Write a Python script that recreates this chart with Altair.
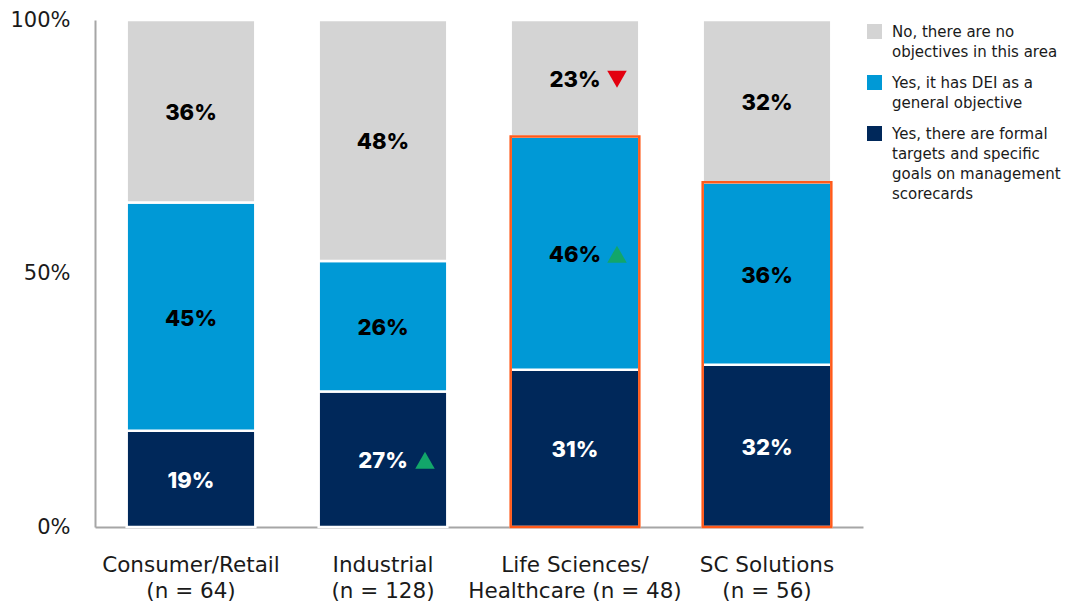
import altair as alt
import pandas as pd

sectors = ["Consumer/Retail", "Industrial", "Life Sciences/", "SC Solutions"]
sector_n = ["(n = 64)", "(n = 128)", "Healthcare (n = 48)", "(n = 56)"]
series = [
    "Yes, there are formal|targets and specific|goals on management|scorecards",
    "Yes, it has DEI as a|general objective",
    "No, there are no|objectives in this area",
]
formal = [19, 27, 31, 32]
general = [45, 26, 46, 36]
no_obj = [36, 48, 23, 32]
colors = ["#00285A", "#0099D6", "#D4D4D4"]
label_colors = ["#FFFFFF", "#000000", "#000000"]
highlighted = ["Life Sciences/", "SC Solutions"]
trend_sector = ["Industrial", "Life Sciences/", "Life Sciences/"]
trend_series = [0, 2, 1]
trend_shape = ["triangle-up", "triangle-down", "triangle-up"]
trend_color = ["#12A66A", "#E3000F", "#12A66A"]

values = [formal, general, no_obj]
rows = []
for i, s in enumerate(sectors):
    total = sum(v[i] for v in values)
    cum = 0
    for j, ser in enumerate(series):
        v = values[j][i]
        y0 = cum / total * 100
        cum += v
        y1 = cum / total * 100
        rows.append({
            "cat": s + "|" + sector_n[i], "sector": s, "series": ser, "sidx": j,
            "v": v, "y0": y0, "y1": y1, "mid": (y0 + y1) / 2,
            "txt": f"{v}%", "tcol": label_colors[j],
        })
df = pd.DataFrame(rows)

outline = df[(df["sector"].isin(highlighted)) & (df["sidx"] == 1)].copy()

trows = []
for k, s in enumerate(trend_sector):
    r = df[(df["sector"] == s) & (df["sidx"] == trend_series[k])].iloc[0]
    trows.append({"cat": r["cat"], "mid": r["mid"], "shape": trend_shape[k], "col": trend_color[k]})
tdf = pd.DataFrame(trows)

FONT = "DejaVu Sans"
cat_order = [s + "|" + n for s, n in zip(sectors, sector_n)]
xenc = alt.X(
    "cat:N", sort=cat_order, title=None,
    scale=alt.Scale(paddingInner=0.33, paddingOuter=0.165),
    axis=alt.Axis(labelExpr="split(datum.label, '|')", labelAngle=0, labelFontSize=21.5,
                  labelFont=FONT, labelColor="#1A1A1A", labelLineHeight=26, labelLimit=400,
                  labelPadding=27, ticks=False, domainColor="#A6A6A6", domainWidth=2),
)
yscale = alt.Scale(domain=[0, 100])

bars = alt.Chart(df).mark_bar(stroke="white", strokeWidth=2.5).encode(
    x=xenc,
    y=alt.Y("y0:Q", scale=yscale, title=None,
            axis=alt.Axis(values=[0, 50, 100], labelExpr="datum.value + '%'", grid=False,
                          ticks=False, labelFontSize=21, labelFont=FONT, labelColor="#1A1A1A",
                          labelPadding=25, domainColor="#A6A6A6", domainWidth=2)),
    y2="y1:Q",
    color=alt.Color("series:N", title=None,
                    scale=alt.Scale(domain=[series[2], series[1], series[0]],
                                    range=[colors[2], colors[1], colors[0]]),
                    legend=alt.Legend(labelExpr="split(datum.label, '|')", orient="none",
                                      legendX=772, legendY=4,
                                      symbolType="square", symbolSize=225, symbolStrokeWidth=0,
                                      labelFontSize=15, labelFont=FONT, labelColor="#1A1A1A",
                                      labelLimit=300, padding=0, rowPadding=15,
                                      labelOffset=10)),
)

box = alt.Chart(outline).mark_bar(fill=None, stroke="#FF5A1A", strokeWidth=2.5, filled=False).encode(
    x=xenc, y=alt.Y("y1:Q", scale=yscale), y2=alt.datum(0),
)

texts = alt.Chart(df).mark_text(fontSize=22, font="Inter", fontWeight=800, baseline="middle", dy=2).encode(
    x=xenc, y=alt.Y("mid:Q", scale=yscale), text="txt:N", color=alt.Color("tcol:N", scale=None),
)

tris = alt.Chart(tdf).mark_point(filled=True, size=380, opacity=1, xOffset=42, yOffset=1).encode(
    x=xenc, y=alt.Y("mid:Q", scale=yscale),
    shape=alt.Shape("shape:N", scale=None), color=alt.Color("col:N", scale=None),
)

chart = alt.layer(bars, box, texts, tris).properties(
    width=768, height=507,
    autosize=alt.AutoSizeParams(type="none"),
    padding={"left": 87, "top": 12, "right": 205, "bottom": 80},
).configure(
    view=alt.ViewConfig(stroke=None),
    style={"guide-label": {"lineHeight": 20}},
)

chart.save("out.html", embed_options={"renderer": "svg", "actions": False})
